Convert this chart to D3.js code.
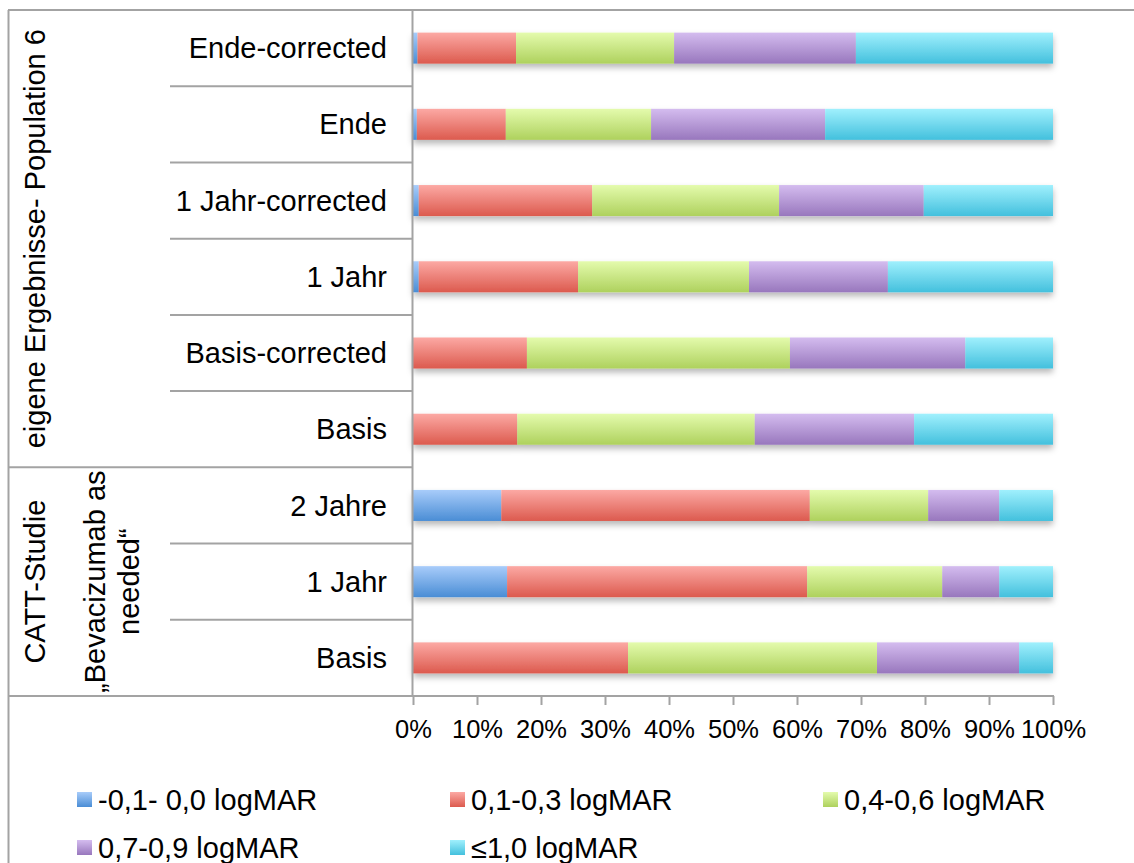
<!DOCTYPE html>
<html>
<head>
<meta charset="utf-8">
<script src="https://cdn.jsdelivr.net/npm/d3@7"></script>
<style>
  html, body { margin: 0; padding: 0; background: #fff; }
  svg { display: block; font-family: "Liberation Sans", Arial, sans-serif; }
</style>
</head>
<body>
<svg id="chart" width="1134" height="863"></svg>
<script>
// ---- data ----
const categories = ["Ende-corrected", "Ende", "1 Jahr-corrected", "1 Jahr", "Basis-corrected", "Basis", "2 Jahre", "1 Jahr", "Basis"];
const seriesNames = ["-0,1- 0,0 logMAR", "0,1-0,3 logMAR", "0,4-0,6 logMAR", "0,7-0,9 logMAR", "\u22641,0 logMAR"];
const s1 = [0.7, 0.6, 0.9, 0.9, 0, 0, 13.8, 14.7, 0];
const s2 = [15.4, 13.9, 27.1, 24.9, 17.8, 16.3, 48.2, 46.9, 33.6];
const s3 = [24.7, 22.7, 29.2, 26.7, 41.1, 37.1, 18.5, 21.1, 38.9];
const s4 = [28.4, 27.2, 22.6, 21.7, 27.4, 24.9, 11.1, 8.9, 22.2];
const s5 = [30.8, 35.6, 20.2, 25.8, 13.7, 21.7, 8.4, 8.4, 5.3];
const groupLabels = [["eigene Ergebnisse- Population 6"], ["CATT-Studie"]];
const groupRanges = [[0, 5], [6, 8]];
const subGroupLabel = ["\u201EBevacizumab as", "needed\u201C"];
const subGroupRange = [6, 8];
const tickValues = [0, 0.1, 0.2, 0.3, 0.4, 0.5, 0.6, 0.7, 0.8, 0.9, 1.0];

const gradTop = ["#a8ccfa", "#fca9a4", "#e4fbad", "#d4bcef", "#a0f0fd"];
const gradBot = ["#4a8dd5", "#dc5a4e", "#aed15d", "#9877bd", "#43c0dd"];

// ---- layout ----
const svg = d3.select("#chart");
const plotLeft = 413, plotRight = 1053, plotTop = 10, plotBottom = 696;

const x = d3.scaleLinear().domain([0, 1]).range([plotLeft, plotRight]);
const y = d3.scaleBand().domain(d3.range(categories.length)).range([plotTop, plotBottom])
  .paddingInner(0.593).paddingOuter(0.2965);
const step = y.step();
const boundary = i => plotTop + step * i;

const rows = categories.map((c, i) => ({ idx: i, s0: s1[i], s1: s2[i], s2: s3[i], s3: s4[i], s4: s5[i] }));
const keys = ["s0", "s1", "s2", "s3", "s4"];
const stacked = d3.stack().keys(keys).offset(d3.stackOffsetExpand)(rows);

// defs
const defs = svg.append("defs");
keys.forEach((k, i) => {
  const g = defs.append("linearGradient").attr("id", "g" + i).attr("x1", 0).attr("y1", 0).attr("x2", 0).attr("y2", 1);
  g.append("stop").attr("offset", "0%").attr("stop-color", gradTop[i]);
  g.append("stop").attr("offset", "100%").attr("stop-color", gradBot[i]);
});
const f = defs.append("filter").attr("id", "shadow").attr("x", "-5%").attr("y", "-30%").attr("width", "110%").attr("height", "180%");
f.append("feDropShadow").attr("dx", 0).attr("dy", 4).attr("stdDeviation", 3).attr("flood-color", "#000").attr("flood-opacity", 0.28);
const fg = defs.append("filter").attr("id", "gshadow").attr("x", "-200%").attr("y", "0").attr("width", "500%").attr("height", "100%");
fg.append("feDropShadow").attr("dx", 1.5).attr("dy", 0).attr("stdDeviation", 1).attr("flood-color", "#000").attr("flood-opacity", 0.2);

svg.append("rect").attr("width", 1134).attr("height", 863).attr("fill", "#fff");

const lineColor = "#a3a3a3";

// outer border (top, left)
svg.append("line").attr("x1", 8).attr("x2", 1134).attr("y1", 10).attr("y2", 10).attr("stroke", lineColor).attr("stroke-width", 2);
svg.append("line").attr("x1", 8.5).attr("x2", 8.5).attr("y1", 10).attr("y2", 863).attr("stroke", lineColor).attr("stroke-width", 2);

// vertical gridlines
svg.append("g").selectAll("line").data(tickValues.slice(1)).join("line")
  .attr("x1", d => x(d)).attr("x2", d => x(d)).attr("y1", plotTop).attr("y2", plotBottom)
  .attr("stroke", "#9c9c9c").attr("stroke-width", 2).attr("filter", "url(#gshadow)");

// bars
const barG = svg.append("g").attr("filter", "url(#shadow)");
stacked.forEach((layer, si) => {
  barG.append("g").attr("fill", `url(#g${si})`)
    .selectAll("rect").data(layer.filter(d => d[1] - d[0] > 0)).join("rect")
    .attr("x", d => x(d[0])).attr("width", d => x(d[1]) - x(d[0]))
    .attr("y", d => y(d.data.idx)).attr("height", y.bandwidth());
});

// x axis
const xAxis = d3.axisBottom(x).tickValues(tickValues).tickFormat(d3.format(".0%")).tickSize(9).tickPadding(15);
const xg = svg.append("g").attr("transform", `translate(0,${plotBottom})`).call(xAxis);
xg.select(".domain").remove();
xg.selectAll(".tick line").attr("stroke", lineColor).attr("stroke-width", 2);
xg.selectAll(".tick text").attr("font-size", 25.5).attr("fill", "#000").attr("font-family", "Liberation Sans, Arial, sans-serif");
svg.append("line").attr("x1", 8).attr("x2", plotRight + 1).attr("y1", plotBottom).attr("y2", plotBottom).attr("stroke", lineColor).attr("stroke-width", 2);

// category axis line
svg.append("line").attr("x1", plotLeft - 0.5).attr("x2", plotLeft - 0.5).attr("y1", plotTop).attr("y2", plotBottom).attr("stroke", lineColor).attr("stroke-width", 2);

// category separators (inner level)
const innerBounds = [];
groupRanges.forEach(([a, b]) => { for (let i = a + 1; i <= b; i++) innerBounds.push(i); });
svg.append("g").selectAll("line").data(innerBounds).join("line")
  .attr("x1", 170).attr("x2", plotLeft).attr("y1", d => boundary(d)).attr("y2", d => boundary(d))
  .attr("stroke", lineColor).attr("stroke-width", 2);
// group separators
const groupBounds = groupRanges.slice(1).map(r => r[0]);
svg.append("g").selectAll("line").data(groupBounds).join("line")
  .attr("x1", 8).attr("x2", plotLeft).attr("y1", d => boundary(d)).attr("y2", d => boundary(d))
  .attr("stroke", lineColor).attr("stroke-width", 2);

// category labels
svg.append("g").selectAll("text").data(categories).join("text")
  .attr("x", 387).attr("y", (d, i) => y(i) + y.bandwidth() / 2).attr("dy", "0.35em")
  .attr("text-anchor", "end").attr("font-size", 29).attr("fill", "#000").text(d => d);

// group labels
groupLabels.forEach((lines, gi) => {
  const [a, b] = groupRanges[gi];
  const cy = (boundary(a) + boundary(b + 1)) / 2;
  svg.append("text").attr("transform", `translate(35,${cy}) rotate(-90)`)
    .attr("text-anchor", "middle").attr("dy", "0.35em").attr("font-size", 29).attr("fill", "#000").text(lines[0]);
});
{
  const cy = (boundary(subGroupRange[0]) + boundary(subGroupRange[1] + 1)) / 2;
  const t = svg.append("text").attr("transform", `translate(112,${cy}) rotate(-90)`)
    .attr("text-anchor", "middle").attr("font-size", 29).attr("fill", "#000");
  subGroupLabel.forEach((l, i) => {
    t.append("tspan").attr("x", 0).attr("y", (i - 0.5) * 34).attr("dy", "0.35em").text(l);
  });
}

// legend
const legendPos = [[77, 800], [450, 800], [823, 800], [77, 848], [450, 848]];
const lg = svg.append("g").selectAll("g").data(seriesNames).join("g")
  .attr("transform", (d, i) => `translate(${legendPos[i][0]},${legendPos[i][1]})`);
lg.append("rect").attr("x", 0).attr("y", -8).attr("width", 15).attr("height", 15).attr("fill", (d, i) => `url(#g${i})`);
lg.append("text").attr("x", 21).attr("y", 0).attr("dy", "0.35em").attr("font-size", 29).attr("fill", "#000").text(d => d);
</script>
</body>
</html>
